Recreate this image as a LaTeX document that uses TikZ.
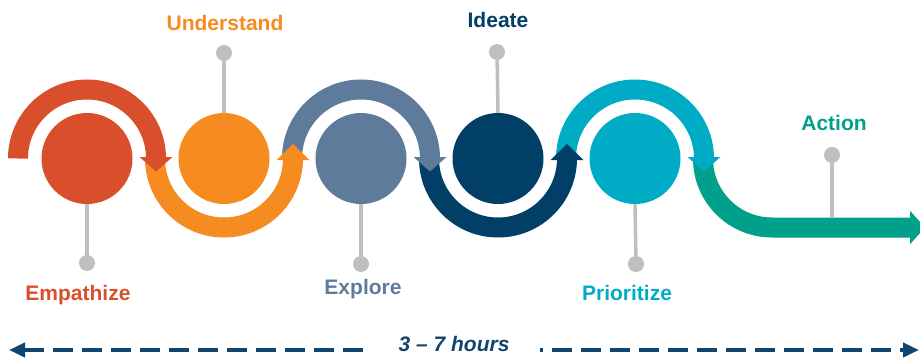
\documentclass[tikz,border=0pt]{standalone}
\usepackage{fontspec}
\setmainfont{Liberation Sans}
\usetikzlibrary{arrows.meta}
\definecolor{cRed}{HTML}{D94F2B}
\definecolor{cOrange}{HTML}{F68B1F}
\definecolor{cSlate}{HTML}{5E7B9C}
\definecolor{cNavy}{HTML}{023F66}
\definecolor{cCyan}{HTML}{00ACC5}
\definecolor{cTeal}{HTML}{00A08B}
\definecolor{cGray}{HTML}{BFBFBF}
\definecolor{cHour}{HTML}{10456F}
\begin{document}
\begin{tikzpicture}[x=1pt,y=1pt,
  band/.style={line width=20pt},
  disc/.style={circle,inner sep=0pt,minimum size=91pt,draw=none},
  pinline/.style={draw=cGray,line width=3.5pt},
  pindot/.style={circle,fill=cGray,inner sep=0pt,minimum size=16pt},
  lbl/.style={font=\bfseries\fontsize{21}{25}\selectfont,anchor=base,inner sep=0pt},
  timeline/.style={draw=cHour,line width=4pt,dash pattern=on 20pt off 9pt},
  tip/.style={-{Triangle[length=16pt,width=14pt]}}]
\useasboundingbox (0,0) rectangle (920,357);
\clip (0,0) rectangle (920,357);
% bands
\draw[band,cRed]    (18,198.5)  arc[start angle=180,end angle=0,radius=69pt];
\draw[band,cOrange] (155,198.5) arc[start angle=180,end angle=360,radius=69pt];
\draw[band,cSlate]  (292,198.5) arc[start angle=180,end angle=0,radius=69pt];
\draw[band,cNavy]   (429,198.5) arc[start angle=180,end angle=360,radius=69pt];
\draw[band,cCyan]   (566,198.5) arc[start angle=180,end angle=0,radius=69pt];
\draw[band,cTeal]   (703,198.5) arc[start angle=180,end angle=270,radius=69pt] -- (911,129.5);
% arrow heads
\fill[cRed]    (139.5,200) -- (172.5,200) -- (156,185.5) -- cycle;
\fill[cOrange] (276.5,197) -- (309.5,197) -- (293,213) -- cycle;
\fill[cSlate]  (413.5,200) -- (446.5,200) -- (430,185.5) -- cycle;
\fill[cNavy]   (550.5,197) -- (583.5,197) -- (567,213) -- cycle;
\fill[cCyan]   (687.5,200) -- (720.5,200) -- (704,185.5) -- cycle;
\fill[cTeal]   (910,146.2) -- (910,112.8) -- (925,129.5) -- cycle;
% circles
\node[disc,fill=cRed]    (c1) at (87,198.5) {};
\node[disc,fill=cOrange] (c2) at (224,198.5) {};
\node[disc,fill=cSlate]  (c3) at (361,198.5) {};
\node[disc,fill=cNavy]   (c4) at (498,198.5) {};
\node[disc,fill=cCyan]   (c5) at (635,198.5) {};
% pins
\node[pindot] (p1) at (87,94) {};
\node[pindot] (p2) at (224,304) {};
\node[pindot] (p3) at (361,93) {};
\node[pindot] (p4) at (497,305) {};
\node[pindot] (p5) at (636,93) {};
\node[pindot] (p6) at (832,202) {};
\coordinate (a6) at (832,139);
\draw[pinline] (c1.south) -- (p1.center);
\draw[pinline] (c2.north) -- (p2.center);
\draw[pinline] (c3.south) -- (p3.center);
\draw[pinline] (c4.north) -- (p4.center);
\draw[pinline] (c5.south) -- (p5.center);
\draw[pinline] (a6) -- (p6.center);
% labels
\node[lbl,text=cRed]    (l1) at (78,57)    {Empathize};
\node[lbl,text=cOrange] (l2) at (225,326.5) {Understand};
\node[lbl,text=cSlate]  (l3) at (363,62.5) {Explore};
\node[lbl,text=cNavy]   (l4) at (498,329) {Ideate};
\node[lbl,text=cCyan]   (l5) at (627,57)   {Prioritize};
\node[lbl,text=cTeal]   (l6) at (834,226.5) {Action};
% time line
\node[lbl,font=\bfseries\itshape\fontsize{21}{25}\selectfont,text=cHour] (hrs) at (454,5.3) {3 -- 7 hours};
\coordinate (tl) at (9,7);
\coordinate (tr) at (919,7);
\coordinate (hl) at (363,7);
\coordinate (hr) at (540,7);
\draw[timeline,tip] (hl) -- (tl);
\draw[timeline,dash phase=17pt,tip] (hr) -- (tr);
\end{tikzpicture}
\end{document}
